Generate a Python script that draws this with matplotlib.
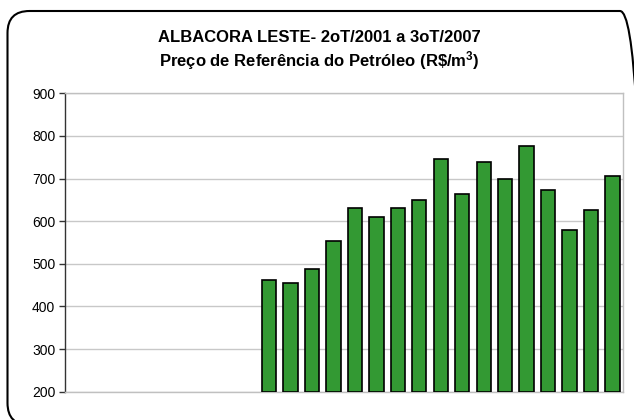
import matplotlib
matplotlib.use("Agg")
import matplotlib.pyplot as plt
from matplotlib.patches import FancyBboxPatch

plt.rcParams['font.family'] = ['Liberation Sans', 'DejaVu Sans']
plt.rcParams['mathtext.fontset'] = 'custom'
plt.rcParams['mathtext.rm'] = 'Liberation Sans:bold'
plt.rcParams['mathtext.it'] = 'Liberation Sans:bold'
plt.rcParams['mathtext.bf'] = 'Liberation Sans:bold'

# 26 quarters from 2oT/2001 to 3oT/2007; first 9 have no data
quarters = ["2T01", "3T01", "4T01",
            "1T02", "2T02", "3T02", "4T02",
            "1T03", "2T03", "3T03", "4T03",
            "1T04", "2T04", "3T04", "4T04",
            "1T05", "2T05", "3T05", "4T05",
            "1T06", "2T06", "3T06", "4T06",
            "1T07", "2T07", "3T07"]
prices = [None] * 9 + [463, 456, 487, 553, 630, 610, 630, 650,
                       746, 664, 738, 700, 776, 672, 579, 626, 707]
yticks = [200, 300, 400, 500, 600, 700, 800, 900]
title1 = "ALBACORA LESTE- 2oT/2001 a 3oT/2007"
title2 = r"Preço de Referência do Petróleo (R\$/m$^{3}$)"

fig = plt.figure(figsize=(6.34, 4.2), dpi=100)
ax = fig.add_axes([65/634, 1 - 391.7/420, (623.3 - 65)/634, (391.7 - 93.3)/420])

xs = [i for i, v in enumerate(prices) if v is not None]
vals = [v for v in prices if v is not None]
ax.bar(xs, [v - 200 for v in vals], bottom=200, width=0.67,
       color='#339933', edgecolor='black', linewidth=1.2, zorder=3)

ax.set_xlim(-0.5, len(quarters) - 0.5)
ax.set_ylim(200, 900)
ax.set_yticks(yticks)
ax.set_yticklabels([str(t) for t in yticks], fontsize=10)
ax.set_xticks([])
ax.grid(axis='y', color='#c8c8c8', linewidth=1, zorder=0)
for s in ['top', 'right', 'bottom']:
    ax.spines[s].set_color('#c0c0c0')
    ax.spines[s].set_linewidth(1)
ax.spines['left'].set_color('#333333')
ax.spines['left'].set_linewidth(1)
ax.tick_params(axis='y', direction='out', length=4, width=1, color='#333333', pad=3)

fig.text(319/634, 1 - 37/420, title1, ha='center', va='center',
         fontsize=12, fontweight='bold')
fig.text(319/634, 1 - 61/420, title2, ha='center', va='center',
         fontsize=12, fontweight='bold')

frame = FancyBboxPatch((7.5/100, -5/100), (642 - 7.5)/100, (409 + 5)/100,
                       boxstyle="round,pad=0,rounding_size=0.22",
                       transform=fig.dpi_scale_trans, facecolor='none',
                       edgecolor='black', linewidth=1.5, clip_on=False)
fig.patches.append(frame)

fig.savefig("out.png", dpi=100)
